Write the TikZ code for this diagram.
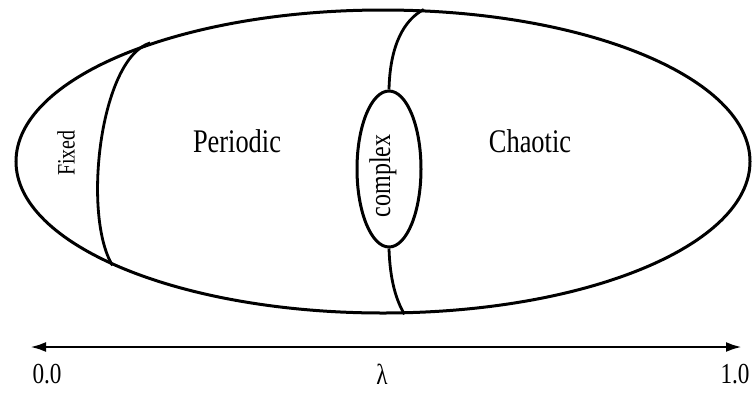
\documentclass[tikz,border=0pt]{standalone}
\usepackage{fontspec}
\setmainfont{Liberation Serif}[FakeStretch=0.8]
\usetikzlibrary{arrows.meta, shapes.geometric}

\begin{document}
\begin{tikzpicture}[x=1pt, y=-1pt,
    region/.style={draw, ellipse, line width=3pt, inner sep=0pt},
    bound/.style={line width=2.8pt},
    lbl/.style={font=\fontsize{33}{36}\selectfont, inner sep=0pt}]
  \useasboundingbox (0,0) rectangle (755,392);

  % regimes
  \node[region, minimum width=734pt, minimum height=303pt] (outer) at (383,161.5) {};
  \node[region, minimum width=64pt, minimum height=156pt] (cplx) at (389,169) {};

  \draw[bound] (outer.153.8) .. controls (100,58) and (82,215) .. (outer.201.8);
  \draw[bound] (outer.75.6) .. controls (404,20) and (390,45) .. (cplx.north);
  \draw[bound] (cplx.south) .. controls (390,280) and (396,300) .. (outer.278.3);

  \node[lbl, anchor=base] (periodic) at (237,152) {Periodic};
  \node[lbl, anchor=base] (chaotic) at (530,152) {Chaotic};
  \node[font=\fontsize{25}{27}\selectfont, inner sep=0pt, rotate=90] (fixed) at (66,153) {Fixed};
  \node[font=\fontsize{30}{32}\selectfont, inner sep=0pt, rotate=90] (cplxlbl) at (383,176) {complex};

  % parameter axis
  \coordinate (lo) at (30,347);
  \coordinate (hi) at (742,347);
  \draw[bound, {Latex[length=16pt, width=10pt]}-{Latex[length=16pt, width=10pt]}] (lo) -- (hi);
  \foreach \nm/\x/\txt in {zero/47/0.0, lam/382/λ, one/735/1.0}
    \node[font=\fontsize{29}{31}\selectfont, inner sep=0pt] (\nm) at (\x,374) {\txt};
\end{tikzpicture}
\end{document}
